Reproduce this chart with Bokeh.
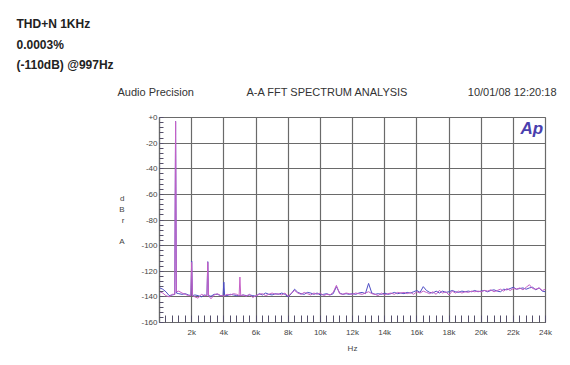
from bokeh.plotting import figure
from bokeh.models import Label, FixedTicker, Range1d
from bokeh.layouts import column
from bokeh.embed import file_html
from bokeh.resources import INLINE

# ---- data (kHz, dBrA) ----
freq_khz = [
    0.02, 0.2, 0.4, 0.6, 0.8, 0.95, 1.0, 1.05, 1.2, 1.4, 1.6, 1.8,
    1.95, 2.0, 2.05, 2.2, 2.4, 2.6, 2.8, 2.95, 3.0, 3.05, 3.2, 3.4, 3.6, 3.8,
    3.95, 4.0, 4.05, 4.2, 4.4, 4.6, 4.8, 4.95, 5.0, 5.05, 5.2,
    5.4, 5.6, 5.8, 6.0, 6.2, 6.4, 6.6, 6.8, 7.0, 7.2, 7.4, 7.6, 7.8,
    8.0, 8.2, 8.4, 8.6, 8.8, 9.0, 9.2, 9.4, 9.6, 9.8,
    10.0, 10.2, 10.4, 10.6, 10.8, 11.0, 11.2, 11.4, 11.6, 11.8,
    12.0, 12.2, 12.4, 12.6, 12.8, 13.0, 13.2, 13.4, 13.6, 13.8,
    14.0, 14.2, 14.4, 14.6, 14.8, 15.0, 15.2, 15.4, 15.6, 15.8,
    16.0, 16.2, 16.4, 16.6, 16.8, 17.0, 17.2, 17.4, 17.6, 17.8,
    18.0, 18.2, 18.4, 18.6, 18.8, 19.0, 19.2, 19.4, 19.6, 19.8,
    20.0, 20.2, 20.4, 20.6, 20.8, 21.0, 21.2, 21.4, 21.6, 21.8,
    22.0, 22.2, 22.4, 22.6, 22.8, 23.0, 23.2, 23.4, 23.6, 23.8, 24.0,
]

magenta_db = [
    -136, -137, -139, -140, -138, -138, -3, -136, -135.5, -137, -138, -139,
    -139, -113, -139, -140, -141, -138, -139, -139, -113, -139, -141.5, -138.5, -137.5, -139,
    -139, -139.5, -139, -138, -138.5, -137.5, -138, -139, -124.5, -139, -138.5,
    -139.5, -138, -140.5, -139, -138, -137.5, -139, -138, -137, -138, -137.5, -138.5, -137,
    -139.5, -137, -135, -137, -138, -136.5, -137.5, -138.5, -137, -138,
    -137, -139, -138, -138.5, -136.5, -131, -137.5, -138, -137, -137.5,
    -138, -137, -137.5, -138, -137, -136, -137.5, -138, -139, -137,
    -138.5, -137.5, -137, -138, -136.5, -137, -136.5, -137.5, -136.5, -138,
    -136, -137, -135.5, -136.5, -137.5, -136, -138, -135, -137, -136,
    -138.5, -135.5, -137, -135.5, -137, -136, -136.5, -135.5, -136, -135.5,
    -136, -135, -135.5, -134.5, -136, -135, -134, -135.5, -133.5, -135,
    -133.5, -134, -133, -134.5, -132.5, -130.5, -133.5, -134, -133, -135, -134,
]

blue_db = [
    -133, -134, -136, -139, -138.5, -138, -3, -137, -137.5, -138, -137.5, -138.5,
    -139, -112, -139, -138.5, -139, -140, -138.5, -139, -112.5, -139, -139.5, -138, -138, -139,
    -139, -128.5, -139, -139, -138, -138.5, -139, -139, -139, -139, -138.5,
    -139, -138.5, -139, -139.5, -137.5, -138.5, -137, -138, -138.5, -137.5, -138, -137, -138,
    -140, -137.5, -134, -136.5, -137.5, -138, -136.5, -137, -138, -137,
    -138.5, -138, -137.5, -138.5, -137.5, -132, -137, -138, -137.5, -138,
    -137.5, -138, -137, -136.5, -137.5, -129.5, -137, -138, -137.5, -138,
    -137, -138, -137.5, -136.5, -137.5, -137, -137.5, -136.5, -137, -136,
    -135, -136.5, -132, -135, -136.5, -137, -135.5, -137, -135.5, -136.5,
    -136, -135, -136, -136.5, -135.5, -136, -135.5, -136, -135, -136,
    -135.5, -135, -136, -135, -134.5, -135.5, -136, -134, -134.5, -133.5,
    -132.5, -134, -133.5, -133, -134, -133, -132.5, -134.5, -133, -135.5, -136,
]

x_ticks = [0, 2, 4, 6, 8, 10, 12, 14, 16, 18, 20, 22, 24]
x_tick_labels = ["", "2k", "4k", "6k", "8k", "10k", "12k", "14k", "16k", "18k", "20k", "22k", "24k"]
y_ticks = [0, -20, -40, -60, -80, -100, -120, -140, -160]
y_tick_labels = ["+0", "-20", "-40", "-60", "-80", "-100", "-120", "-140", "-160"]

FONT = "Liberation Sans"
GRID = "#6a6a6a"
W = 562
HEAD_H = 110
LEFT, TOP, RIGHT_B, BOTTOM_B = 159, 7, 17, 35
H = TOP + 205 + BOTTOM_B

# ---------- header strip (page coordinates) ----------
head = figure(width=W, height=HEAD_H, output_backend="svg", toolbar_location=None,
              x_range=Range1d(0, W), y_range=Range1d(HEAD_H, 0),
              x_axis_type=None, y_axis_type=None,
              min_border_left=0, min_border_right=0, min_border_top=0, min_border_bottom=0)
head.frame_align = False
head.grid.visible = False
head.outline_line_color = None
head.background_fill_color = "white"
head.border_fill_color = "white"


def hlab(text, x, y, size, style="normal", color="#222222", align="left"):
    head.add_layout(Label(x=x, y=y, text=text, text_font=FONT, text_font_size=size,
                          text_font_style=style, text_color=color, text_align=align,
                          text_baseline="alphabetic"))


hlab("THD+N 1KHz", 16, 23, "12px", "bold")
hlab("0.0003%", 16, 44, "12px", "bold")
hlab("(-110dB) @997Hz", 16, 64, "12px", "bold")
hlab("Audio Precision", 117, 91, "11px", color="#333333")
hlab("A-A FFT SPECTRUM ANALYSIS", 246, 91, "11px", color="#333333")
hlab("10/01/08 12:20:18", 556, 91, "11px", color="#333333", align="right")

# ---------- main FFT plot ----------
p = figure(width=W, height=H, output_backend="svg", toolbar_location=None,
           x_range=Range1d(0, 24), y_range=Range1d(-160, 0),
           min_border_left=LEFT, min_border_right=RIGHT_B, min_border_top=TOP,
           min_border_bottom=BOTTOM_B)
p.frame_align = False
p.background_fill_color = "white"
p.border_fill_color = "white"
p.outline_line_color = GRID
p.outline_line_width = 1.2

p.xaxis.ticker = FixedTicker(ticks=x_ticks, minor_ticks=[i * 0.4 for i in range(61)])
p.yaxis.ticker = FixedTicker(ticks=y_ticks, minor_ticks=[-4 * i for i in range(41)])
p.xaxis.major_label_overrides = {t: l for t, l in zip(x_ticks, x_tick_labels)}
p.yaxis.major_label_overrides = {t: l for t, l in zip(y_ticks, y_tick_labels)}

for ax in (p.xaxis, p.yaxis):
    ax.axis_line_color = GRID
    ax.axis_line_width = 1.2
    ax.major_tick_in = 0
    ax.major_tick_out = 0
    ax.minor_tick_out = 0
    ax.minor_tick_line_color = "#55506a"
    ax.major_label_text_font = FONT
    ax.major_label_text_font_size = "8px"
    ax.major_label_text_color = "#444444"
    ax.axis_label_text_font = FONT
    ax.axis_label_text_font_size = "8px"
    ax.axis_label_text_font_style = "normal"
    ax.axis_label_text_color = "#444444"

p.xaxis.minor_tick_in = 7
p.yaxis.minor_tick_in = 4
p.xaxis.major_label_standoff = 5
p.yaxis.major_label_standoff = 2
p.xaxis.axis_label = "Hz"
p.xaxis.axis_label_standoff = 4
p.yaxis.axis_label = "d\nB\nr\n\nA"
p.yaxis.axis_label_orientation = "horizontal"
p.yaxis.axis_label_standoff = 14

p.xgrid.ticker = FixedTicker(ticks=x_ticks)
p.ygrid.ticker = FixedTicker(ticks=y_ticks)
p.grid.grid_line_color = GRID
p.grid.grid_line_width = 1.2

p.line(freq_khz, blue_db, line_color="#4d4dc4", line_width=1)
p.line(freq_khz, magenta_db, line_color="#c560c6", line_width=1)

# "Ap" logo in the top-right cell (screen units are frame-relative, y up)
p.add_layout(Label(x=520 - LEFT, y=205 - (128 - HEAD_H - TOP), x_units="screen", y_units="screen",
                   text="Ap", text_font=FONT, text_font_size="17px", text_font_style="bold italic",
                   text_color="#4a3fae", text_baseline="alphabetic"))

layout = column(head, p, spacing=0)
open("out.html", "w").write(file_html(layout, INLINE))
